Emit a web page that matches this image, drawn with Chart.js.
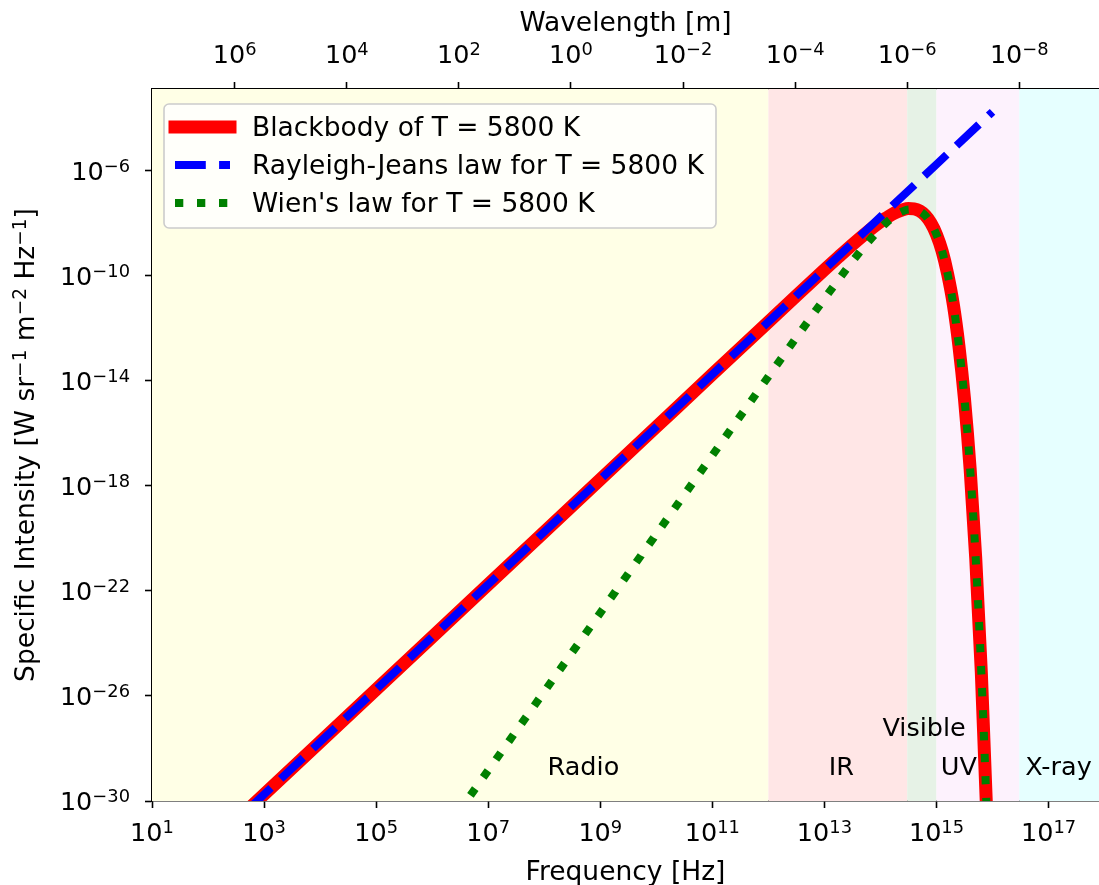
<!DOCTYPE html>
<html>
<head>
<meta charset="utf-8">
<title>Blackbody spectrum, T = 5800 K</title>
<script src="https://cdn.jsdelivr.net/npm/chart.js@4.4.0/dist/chart.umd.min.js"></script>
<style>
  html, body { margin: 0; padding: 0; background: #fff; }
  #wrap { width: 1099px; height: 885px; position: relative; }
</style>
</head>
<body>
<div id="wrap"><canvas id="spectrum"></canvas></div>
<script>
const C_LIGHT = 2.998e8; // m/s, for the wavelength axis

// Rayleigh-Jeans law (straight line in log-log)
const rjFreq = [1e1, 1e3, 1e5, 1e7, 1e9, 1e11, 1e13, 1e15, 1e16];
const rjIntensity = [1.78e-34, 1.78e-30, 1.78e-26, 1.78e-22, 1.78e-18, 1.78e-14, 1.78e-10, 1.78e-6, 1.78e-4];

// Planck curve
const bbFreq = [1e2, 1e4, 1e6, 1e8, 1e10, 1e11,
  1e12, 3.16e12, 1e13, 1.78e13, 3.16e13, 5.62e13,
  1e14, 1.26e14, 1.58e14, 2.00e14, 2.51e14, 3.16e14, 3.98e14, 5.01e14, 6.31e14, 7.94e14,
  1e15, 1.26e15, 1.58e15, 2.00e15, 2.51e15, 3.16e15, 3.98e15, 5.01e15, 6.31e15, 7.94e15,
  1e16];
const bbIntensity = [1.78e-32, 1.78e-28, 1.78e-24, 1.78e-20, 1.78e-16, 1.78e-14,
  1.77e-12, 1.76e-11, 1.71e-10, 5.23e-10, 1.56e-9, 4.43e-9,
  1.15e-8, 1.60e-8, 2.17e-8, 2.78e-8, 3.34e-8, 3.67e-8, 3.58e-8, 2.98e-8, 2.01e-8, 1.03e-8,
  3.76e-9, 8.81e-10, 1.18e-10, 7.92e-12, 2.20e-13, 2.02e-15, 4.59e-18, 1.81e-21, 7.84e-26, 2.11e-31,
  1.71e-38];

// Wien approximation
const wienFreq = [1e6, 1e7, 1e8, 1e9, 1e10, 1e11,
  1e12, 3.16e12, 1e13, 1.78e13, 3.16e13, 5.62e13,
  1e14, 1.26e14, 1.58e14, 2.00e14, 2.51e14, 3.16e14, 3.98e14, 5.01e14, 6.31e14, 7.94e14,
  1e15, 1.26e15, 1.58e15, 2.00e15, 2.51e15, 3.16e15, 3.98e15, 5.01e15, 6.31e15, 7.94e15,
  1e16];
const wienIntensity = [1.47e-32, 1.47e-29, 1.47e-26, 1.47e-23, 1.47e-20, 1.47e-17,
  1.46e-14, 4.54e-13, 1.36e-11, 7.16e-11, 3.59e-10, 1.65e-9,
  6.45e-9, 1.04e-8, 1.58e-8, 2.25e-8, 2.92e-8, 3.41e-8, 3.45e-8, 2.93e-8, 2.00e-8, 1.03e-8,
  3.76e-9, 8.81e-10, 1.18e-10, 7.92e-12, 2.20e-13, 2.02e-15, 4.59e-18, 1.81e-21, 7.84e-26, 2.11e-31,
  1.71e-38];

// ticks
const freqTicks = [1e1, 1e3, 1e5, 1e7, 1e9, 1e11, 1e13, 1e15, 1e17];
const freqTickExp = ['1', '3', '5', '7', '9', '11', '13', '15', '17'];
const waveTicks = [1e6, 1e4, 1e2, 1, 1e-2, 1e-4, 1e-6, 1e-8];
const waveTickExp = ['6', '4', '2', '0', '\u22122', '\u22124', '\u22126', '\u22128'];
const intensityTicks = [1e-30, 1e-26, 1e-22, 1e-18, 1e-14, 1e-10, 1e-6];
const intensityTickExp = ['\u221230', '\u221226', '\u221222', '\u221218', '\u221214', '\u221210', '\u22126'];

// spectral bands
const bandNames = ['Radio', 'IR', 'Visible', 'UV', 'X-ray'];
const bandLow = [1e1, 1e12, 3e14, 1e15, 3e16];
const bandHigh = [1e12, 3e14, 1e15, 3e16, 1e18];
const bandLabelFreq = [5e8, 2e13, 6e14, 2.5e15, 1.5e17];
const bandLabelIntensity = [1e-29, 1e-29, 3e-28, 1e-29, 1e-29];

const X_MIN = 1e1, X_MAX = Math.pow(10, 17.9);
const Y_MIN = 1e-30, Y_MAX = Math.pow(10, -2.88);

const BAND_COLORS = ['#ffffe6', '#ffe6e6', '#e6f2e6', '#fdf2fd', '#e6ffff'];
const FONT = '"DejaVu Sans", "Liberation Sans", sans-serif';
const TICK_PX = 25.5;   // tick labels and band names
const LABEL_PX = 26.5;  // axis titles and legend

function xy(xs, ys) {
  return xs.map((v, i) => ({ x: v, y: ys[i] }));
}

// text runs with optional superscripts, mathtext-like
function richWidth(ctx, parts, size) {
  let w = 0;
  parts.forEach(p => {
    ctx.font = (p.sup ? size * 0.7 : size) + 'px ' + FONT;
    w += ctx.measureText(p.t).width;
  });
  return w;
}

function drawRich(ctx, parts, x, y, align, size) {
  const w = richWidth(ctx, parts, size);
  const rise = size * 0.314;
  let cx = align === 'center' ? x - w / 2 : (align === 'right' ? x - w : x);
  ctx.textAlign = 'left';
  ctx.textBaseline = 'alphabetic';
  parts.forEach(p => {
    ctx.font = (p.sup ? size * 0.7 : size) + 'px ' + FONT;
    ctx.fillText(p.t, cx, p.sup ? y - rise : y);
    cx += ctx.measureText(p.t).width;
  });
}

const pow10 = e => [{ t: '10' }, { t: e, sup: true }];

const spectrumDecor = {
  id: 'spectrumDecor',
  beforeDatasetsDraw(chart) {
    const { ctx, chartArea: a, scales: { x } } = chart;
    ctx.save();
    bandLow.forEach((lo, i) => {
      const x1 = Math.max(a.left, x.getPixelForValue(lo));
      const x2 = Math.min(a.right, x.getPixelForValue(bandHigh[i]));
      ctx.fillStyle = BAND_COLORS[i];
      ctx.fillRect(x1, a.top, x2 - x1, a.bottom - a.top);
    });
    ctx.restore();
  },
  afterDraw(chart) {
    const { ctx, chartArea: a, scales: { x, x2, y } } = chart;
    ctx.save();
    ctx.fillStyle = '#000';

    // tick labels
    freqTicks.forEach((v, i) => drawRich(ctx, pow10(freqTickExp[i]), x.getPixelForValue(v), a.bottom + 40, 'center', TICK_PX));
    waveTicks.forEach((v, i) => drawRich(ctx, pow10(waveTickExp[i]), x2.getPixelForValue(v), a.top - 26, 'center', TICK_PX));
    intensityTicks.forEach((v, i) => drawRich(ctx, pow10(intensityTickExp[i]), a.left - 22, y.getPixelForValue(v) + 9, 'right', TICK_PX));

    // axis titles
    const midX = (a.left + a.right) / 2;
    drawRich(ctx, [{ t: 'Frequency [Hz]' }], midX, 880, 'center', LABEL_PX);
    drawRich(ctx, [{ t: 'Wavelength [m]' }], midX, 31, 'center', LABEL_PX);
    ctx.save();
    ctx.translate(34, (a.top + a.bottom) / 2);
    ctx.rotate(-Math.PI / 2);
    drawRich(ctx, [
      { t: 'Specific Intensity [W sr' }, { t: '\u22121', sup: true },
      { t: ' m' }, { t: '\u22122', sup: true },
      { t: ' Hz' }, { t: '\u22121', sup: true }, { t: ']' }
    ], 0, 0, 'center', LABEL_PX);
    ctx.restore();

    // band names
    bandNames.forEach((name, i) => {
      drawRich(ctx, [{ t: name }], x.getPixelForValue(bandLabelFreq[i]), y.getPixelForValue(bandLabelIntensity[i]), 'center', TICK_PX);
    });

    // legend
    const box = { left: 164, top: 104, right: 716, bottom: 228 };
    ctx.beginPath();
    ctx.roundRect(box.left, box.top, box.right - box.left, box.bottom - box.top, 5);
    ctx.fillStyle = 'rgba(255,255,255,0.8)';
    ctx.fill();
    ctx.lineWidth = 1.6;
    ctx.strokeStyle = '#cccccc';
    ctx.stroke();
    chart.data.datasets.forEach((ds, i) => {
      const base = 136 + i * 38;
      ctx.beginPath();
      ctx.setLineDash(ds.borderDash || []);
      ctx.lineDashOffset = 0;
      ctx.lineCap = ds.borderCapStyle || 'butt';
      ctx.lineWidth = ds.borderWidth;
      ctx.strokeStyle = ds.borderColor;
      ctx.moveTo(175, base - 9);
      ctx.lineTo(230, base - 9);
      ctx.stroke();
      ctx.setLineDash([]);
      ctx.fillStyle = '#000';
      drawRich(ctx, [{ t: ds.label }], 252, base, 'left', LABEL_PX);
    });
    ctx.restore();
  }
};

const axisCommon = {
  type: 'logarithmic',
  bounds: 'data',
  ticks: { display: false },
  grid: { display: true, drawOnChartArea: false, drawTicks: true, tickLength: 7, tickWidth: 1.6, tickColor: '#000' },
  border: { display: true, color: '#000', width: 1.6 },
  z: 1
};

new Chart(document.getElementById('spectrum'), {
  type: 'line',
  data: {
    datasets: [
      {
        label: 'Blackbody of T = 5800 K',
        data: xy(bbFreq, bbIntensity),
        borderColor: '#ff0000',
        borderWidth: 13,
        borderCapStyle: 'square',
        order: 3
      },
      {
        label: 'Rayleigh-Jeans law for T = 5800 K',
        data: xy(rjFreq, rjIntensity),
        borderColor: '#0000ff',
        borderWidth: 8,
        borderDash: [30.8, 13.3],
        borderCapStyle: 'butt',
        order: 2
      },
      {
        label: "Wien's law for T = 5800 K",
        data: xy(wienFreq, wienIntensity),
        borderColor: '#008000',
        borderWidth: 8,
        borderDash: [8.3, 13.7],
        borderCapStyle: 'butt',
        order: 1
      }
    ]
  },
  options: {
    animation: false,
    responsive: true,
    maintainAspectRatio: false,
    devicePixelRatio: 1,
    events: [],
    layout: { padding: 0 },
    elements: {
      point: { radius: 0 },
      line: { cubicInterpolationMode: 'monotone', borderJoinStyle: 'round', fill: false }
    },
    datasets: { line: { clip: 0 } },
    plugins: { legend: { display: false }, tooltip: { enabled: false } },
    scales: {
      x: Object.assign({}, axisCommon, {
        position: 'bottom', min: X_MIN, max: X_MAX,
        afterBuildTicks: s => { s.ticks = freqTicks.map(v => ({ value: v })); },
        afterFit: s => { s.height = 84; }
      }),
      x2: Object.assign({}, axisCommon, {
        position: 'top', reverse: true, min: C_LIGHT / X_MAX, max: C_LIGHT / X_MIN,
        afterBuildTicks: s => { s.ticks = waveTicks.map(v => ({ value: v })); },
        afterFit: s => { s.height = 89; }
      }),
      y: Object.assign({}, axisCommon, {
        position: 'left', min: Y_MIN, max: Y_MAX,
        afterBuildTicks: s => { s.ticks = intensityTicks.map(v => ({ value: v })); },
        afterFit: s => { s.width = 152; }
      })
    }
  },
  plugins: [spectrumDecor]
});
</script>
</body>
</html>
